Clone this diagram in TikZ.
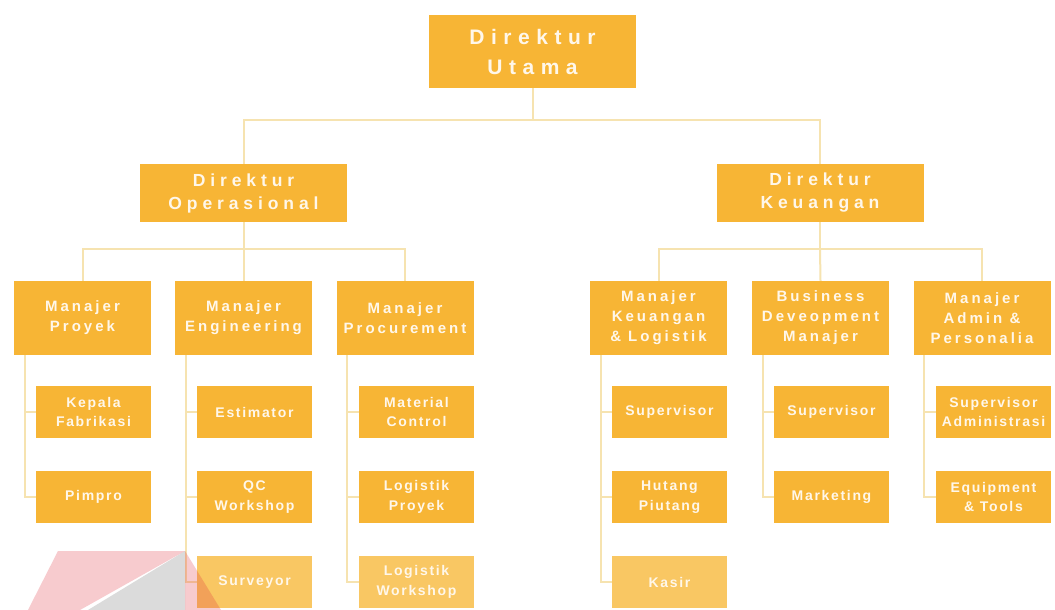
\documentclass[tikz,border=0pt]{standalone}
\usepackage{fontspec}
\setmainfont{Liberation Sans}
\newfontfamily\fTop[LetterSpace=31]{Liberation Sans}
\newfontfamily\fDir[LetterSpace=28]{Liberation Sans}
\newfontfamily\fMgr[LetterSpace=20]{Liberation Sans}
\newfontfamily\fSub[LetterSpace=12]{Liberation Sans}
\definecolor{boxc}{HTML}{F7B535}
\definecolor{boxlight}{HTML}{F9C763}
\definecolor{linkc}{HTML}{F6E3B0}
\definecolor{txtc}{HTML}{FFF7EA}
\definecolor{markred}{HTML}{E0303F}
\tikzset{
  base/.style={fill=boxc, text=txtc, align=center, inner sep=0pt},
  topbox/.style={base, minimum width=207pt, minimum height=73pt,
    font=\fTop\bfseries\fontsize{21}{30}\selectfont},
  dirbox/.style={base, minimum width=207pt, minimum height=58pt,
    font=\fDir\bfseries\fontsize{17.5}{23}\selectfont},
  mgrbox/.style={base, minimum width=137pt, minimum height=74pt,
    font=\fMgr\bfseries\fontsize{15}{20}\selectfont},
  subbox/.style={base, minimum width=115pt, minimum height=52pt,
    font=\fSub\bfseries\fontsize{14}{19.5}\selectfont},
  faded/.style={fill=boxlight},
  link/.style={draw=linkc, line width=2pt},
}
\begin{document}
\begin{tikzpicture}[x=1pt, y=-1pt]
\useasboundingbox[fill=white] (0,0) rectangle (1055,610);

% junction levels
\coordinate (j1) at (532.5,120);
\coordinate (j2) at (243.5,249);
\coordinate (j3) at (820,249);

% top and directors
\node[topbox] (du) at (532.5,51.5) {Direktur\\Utama};
\node[dirbox] (do) at (243.5,193) {Direktur\\Operasional};
\node[dirbox] (dk) at (820,193) {Direktur\\Keuangan};

% managers
\node[mgrbox] (mp)  at (82.5,318)  {Manajer\\Proyek};
\node[mgrbox] (me)  at (243.5,318) {Manajer\\Engineering};
\node[mgrbox] (mpr) at (405,318)   {Manajer\\Procurement};
\node[mgrbox] (mk)  at (658.5,318) {Manajer\\Keuangan\\\& Logistik};
\node[mgrbox] (bd)  at (820.5,318) {Business\\Deveopment\\Manajer};
\node[mgrbox] (ma)  at (982,318)   {Manajer\\Admin \&\\Personalia};

% staff under Manajer Proyek
\node[subbox] (kf) at (93.5,412) {Kepala\\Fabrikasi};
\node[subbox] (pp) at (93.5,497) {Pimpro};
% staff under Manajer Engineering
\node[subbox] (es) at (254.5,412) {Estimator};
\node[subbox] (qc) at (254.5,497) {QC\\Workshop};
\node[subbox, faded] (sv) at (254.5,582) {Surveyor};
% staff under Manajer Procurement
\node[subbox] (mc) at (416.5,412) {Material\\Control};
\node[subbox] (lp) at (416.5,497) {Logistik\\Proyek};
\node[subbox, faded] (lw) at (416.5,582) {Logistik\\Workshop};
% staff under Manajer Keuangan & Logistik
\node[subbox] (s1) at (669.5,412) {Supervisor};
\node[subbox] (hp) at (669.5,497) {Hutang\\Piutang};
\node[subbox, faded] (ks) at (669.5,582) {Kasir};
% staff under Business Development
\node[subbox] (s2) at (831.5,412) {Supervisor};
\node[subbox] (mt) at (831.5,497) {Marketing};
% staff under Manajer Admin & Personalia
\node[subbox] (sa) at (993.5,412) {Supervisor\\Administrasi};
\node[subbox] (et) at (993.5,497) {Equipment\\\& Tools};

% connectors: top level
\draw[link] (du.south) -- (j1);
\draw[link] (do.north) -- (do.north |- j1) -- (dk.north |- j1) -- (dk.north);
% connectors: directors to managers
\draw[link] (do.south) -- (j2);
\draw[link] (mp.north) -- (mp.north |- j2) -- (mpr.north |- j2) -- (mpr.north);
\draw[link] (j2) -- (me.north);
\draw[link] (dk.south) -- (j3);
\draw[link] (mk.north) -- (mk.north |- j3) -- (ma.north |- j3) -- (ma.north);
\draw[link] (j3) -- (bd.north);

% connectors: managers to staff
\foreach \m/\kids in {mp/{kf,pp}, me/{es,qc,sv}, mpr/{mc,lp,lw},
                      mk/{s1,hp,ks}, bd/{s2,mt}, ma/{sa,et}} {
  \foreach \k in \kids {
    \draw[link] ([xshift=11pt]\m.south west) |- (\k.west);
  }
}

% logo mark in the lower left corner
\fill[markred, opacity=0.25] (58,551) -- (185,551) -- (80,610) -- (28,610) -- cycle;
\fill[markred, opacity=0.25] (185,551) -- (221,610) -- (185,610) -- cycle;
\fill[black, opacity=0.14] (185,551) -- (185,610) -- (88,610) -- cycle;
\end{tikzpicture}
\end{document}
